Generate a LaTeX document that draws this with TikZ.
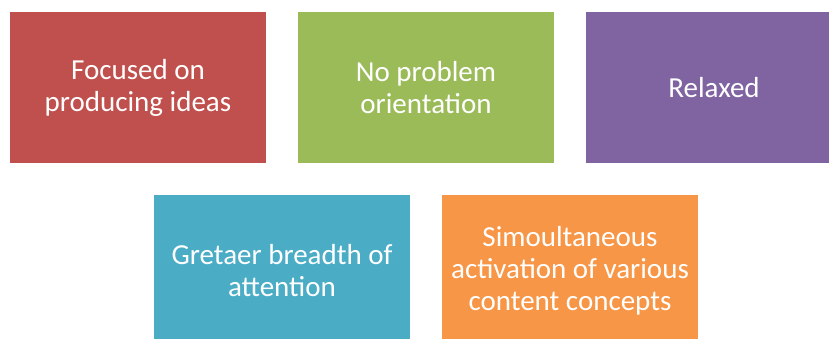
\documentclass[tikz,border=0pt]{standalone}
\usepackage{fontspec}
\setmainfont{Carlito}
\usepackage{xcolor}
\usetikzlibrary{positioning}

\definecolor{boxred}{HTML}{C0504D}
\definecolor{boxgreen}{HTML}{9BBB59}
\definecolor{boxpurple}{HTML}{8064A2}
\definecolor{boxblue}{HTML}{4BACC6}
\definecolor{boxorange}{HTML}{F79646}

\begin{document}
\begin{tikzpicture}[
    x=1pt, y=1pt,
    box/.style={minimum width=256pt, minimum height=151pt, inner sep=0pt, outer sep=0pt,
                align=center, text=white, font=\fontsize{29}{32}\selectfont}
]
    \useasboundingbox (0,0) rectangle (829,-339);
    \clip (0,0) rectangle (829,-339);
    % top row
    \node[box, fill=boxred] (focus) at (138,-87.5) {Focused on\\producing ideas};
    \node[box, fill=boxgreen, right=32pt of focus] (noprob) {No problem\\orientation};
    \node[box, fill=boxpurple, right=32pt of noprob] (relax) {Relaxed};
    % bottom row
    \node[box, fill=boxblue, below=32pt of focus, xshift=144pt] (breadth) {Gretaer breadth of\\attention};
    \node[box, fill=boxorange, right=32pt of breadth] (activ) {Simoultaneous\\activation of various\\content concepts};
\end{tikzpicture}
\end{document}
